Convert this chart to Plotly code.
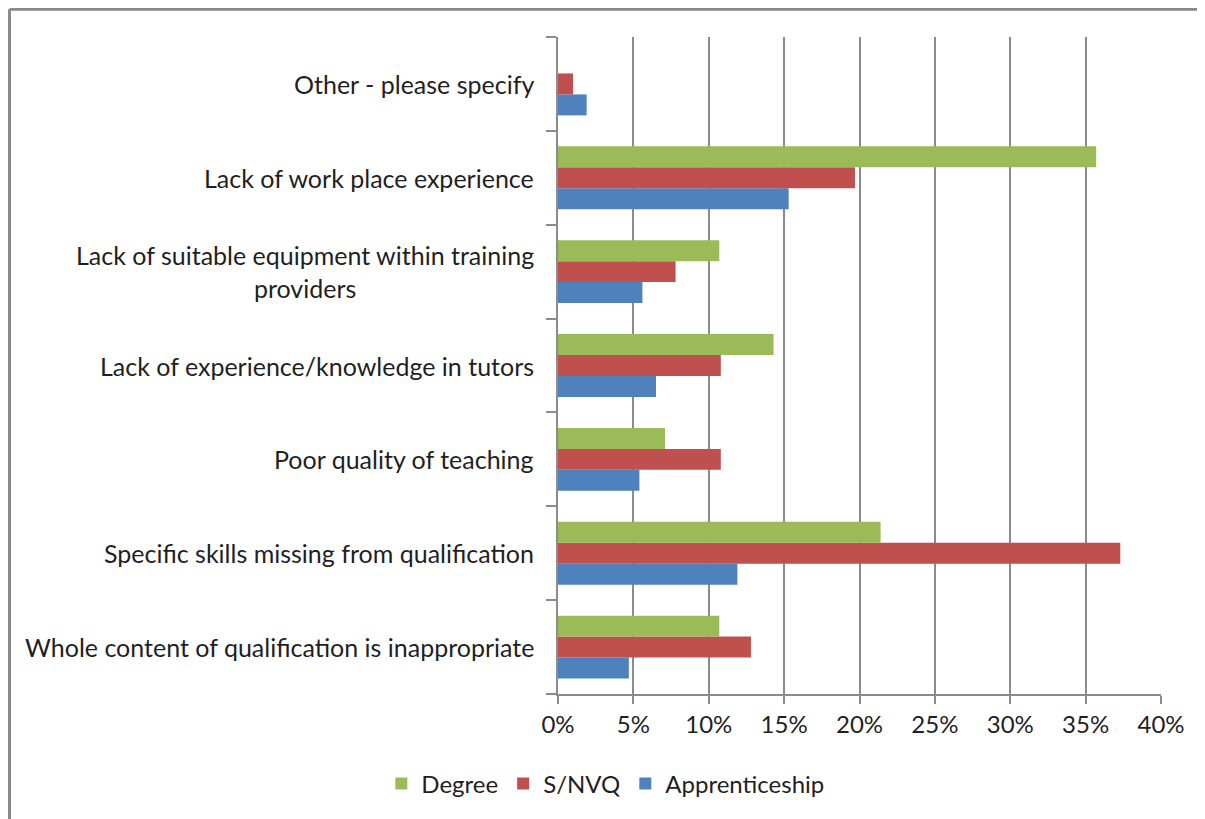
import plotly.graph_objects as go

categories = [
    "Whole content of qualification is inappropriate",
    "Specific skills missing from qualification",
    "Poor quality of teaching",
    "Lack of experience/knowledge in tutors",
    "Lack of suitable equipment within training<br>providers",
    "Lack of work place experience",
    "Other - please specify",
]
apprenticeship = [4.7, 11.9, 5.4, 6.5, 5.6, 15.3, 1.9]
snvq = [12.8, 37.3, 10.8, 10.8, 7.8, 19.7, 1.0]
degree = [10.7, 21.4, 7.1, 14.3, 10.7, 35.7, 0.0]
x_ticks = [0, 5, 10, 15, 20, 25, 30, 35, 40]

FONT = "Lato"
TXT = "#1f1f1f"
GRID = "#8c8c8c"

fig = go.Figure()
fig.add_trace(go.Bar(y=categories, x=apprenticeship, name="Apprenticeship", orientation="h",
                     marker=dict(color="#4F81BD", line=dict(width=0))))
fig.add_trace(go.Bar(y=categories, x=snvq, name="S/NVQ", orientation="h",
                     marker=dict(color="#C0504D", line=dict(width=0))))
fig.add_trace(go.Bar(y=categories, x=degree, name="Degree", orientation="h",
                     marker=dict(color="#9BBB59", line=dict(width=0))))

annotations = []
for c in categories:
    annotations.append(dict(x=0, xref="paper", y=c, yref="y", text=c, showarrow=False,
                            xanchor="right", yanchor="middle", xshift=-22, align="center",
                            font=dict(family=FONT, size=25, color=TXT)))

# page has an 8px body margin, so the figure is 8px smaller than the window
W, H = 1197, 811
ML, MR, MT, MB = 550, 44, 29, 125
PW, PH = W - ML - MR, H - MT - MB
bx = (1.5 - ML) / PW
by = 1 + (MT - 1.3) / PH

fig.update_layout(
    width=W, height=H,
    margin=dict(l=ML, r=MR, t=MT, b=MB, autoexpand=False),
    paper_bgcolor="white", plot_bgcolor="white",
    barmode="group", bargap=0.33, bargroupgap=0,
    font=dict(family=FONT, size=24, color=TXT),
    showlegend=True,
    legend=dict(orientation="h", traceorder="reversed",
                xref="container", yref="container",
                x=0.499, xanchor="center", y=0.0432, yanchor="middle",
                font=dict(family=FONT, size=24, color=TXT),
                itemwidth=30, itemsizing="constant"),
    annotations=annotations,
    shapes=[
        dict(type="line", xref="paper", yref="paper", x0=bx, x1=1.2, y0=by, y1=by,
             line=dict(color="#8a8a8a", width=3)),
        dict(type="line", xref="paper", yref="paper", x0=bx, x1=bx, y0=by, y1=-0.3,
             line=dict(color="#8a8a8a", width=3)),
    ],
)
fig.update_xaxes(range=[0, 40], tickvals=x_ticks, ticktext=[f"{v}%" for v in x_ticks],
                 showgrid=True, gridcolor=GRID, gridwidth=1.5,
                 showline=True, linecolor=GRID, linewidth=1.5,
                 ticks="outside", ticklen=8, tickcolor=GRID, tickwidth=1.5,
                 zeroline=False, tickfont=dict(family=FONT, size=24, color=TXT))
fig.update_yaxes(showticklabels=False, tickson="boundaries", ticks="outside", ticklen=10,
                 tickcolor=GRID, tickwidth=1.5, showline=True, linecolor=GRID, linewidth=1.5,
                 showgrid=False, range=[-0.5, 6.5])

fig.write_html("out.html")
